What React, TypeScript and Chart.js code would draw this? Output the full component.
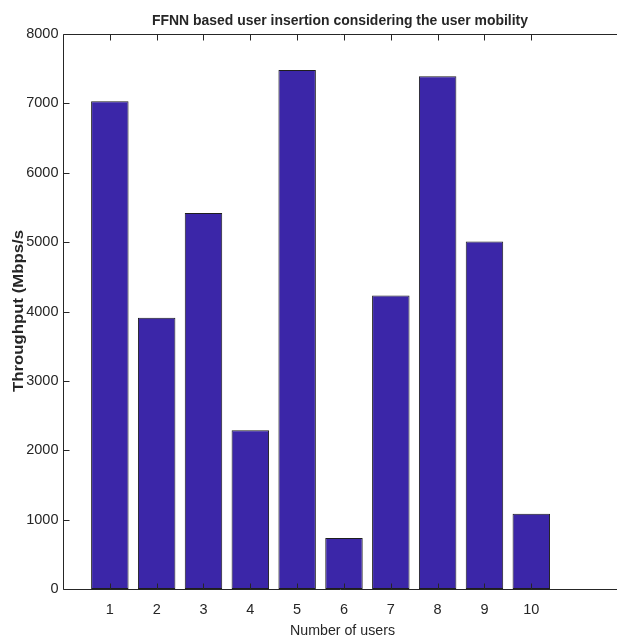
import React, { useEffect, useRef } from 'react';
import { Chart, registerables } from 'chart.js';

Chart.register(...registerables);

// ---- data ----
const categories = [1, 2, 3, 4, 5, 6, 7, 8, 9, 10];
const throughput = [7030, 3910, 5420, 2290, 7480, 735, 4230, 7390, 5010, 1085];
const yTicks = [0, 1000, 2000, 3000, 4000, 5000, 6000, 7000, 8000];
const xLimits = [0, 11.83];
const yLimits = [0, 8000];
const titleText = 'FFNN based user insertion considering the user mobility';
const xLabelText = 'Number of users';
const yLabelText = 'Throughput (Mbps/s';

const FONT = "'Liberation Sans', Arial, Helvetica, sans-serif";
const TEXT = '#262626';
const AXIS = '#262626';

const drawFitted = (ctx: any, text: string, x: number, y: number, width: number) => {
  const w = ctx.measureText(text).width;
  ctx.save();
  ctx.translate(x, y);
  ctx.scale(width / w, 1);
  ctx.textAlign = 'center';
  ctx.fillText(text, 0, 0);
  ctx.restore();
};

const matlabAxes = {
  id: 'matlabAxes',
  afterDatasetsDraw(chart: any) {
    const { ctx, chartArea: a, scales, width } = chart;
    const x = scales.x;
    const y = scales.y;
    const L = Math.round(a.left) + 0.5;
    const T = Math.round(a.top) + 0.5;
    const B = Math.round(a.bottom) + 0.5;
    const tl = 6;
    ctx.save();
    ctx.lineWidth = 1;
    ctx.strokeStyle = AXIS;
    ctx.beginPath();
    ctx.moveTo(L, T);
    ctx.lineTo(L, B);
    ctx.lineTo(width, B);
    ctx.moveTo(L, T);
    ctx.lineTo(width, T);
    categories.forEach((c) => {
      const px = Math.round(x.getPixelForValue(c)) + 0.5;
      ctx.moveTo(px, B);
      ctx.lineTo(px, B - tl);
      ctx.moveTo(px, T);
      ctx.lineTo(px, T + tl);
    });
    yTicks.forEach((v) => {
      const py = Math.round(y.getPixelForValue(v)) + 0.5;
      ctx.moveTo(L, py);
      ctx.lineTo(L + tl, py);
    });
    ctx.stroke();
    // x tick labels
    ctx.fillStyle = TEXT;
    ctx.font = `14.5px ${FONT}`;
    ctx.textAlign = 'center';
    ctx.textBaseline = 'alphabetic';
    categories.forEach((c) => {
      ctx.fillText(String(c), x.getPixelForValue(c), a.bottom + 24.5);
    });
    ctx.restore();
  },
  afterDraw(chart: any) {
    const { ctx } = chart;
    ctx.save();
    ctx.fillStyle = TEXT;
    ctx.textBaseline = 'alphabetic';
    // title
    ctx.font = `bold 15px ${FONT}`;
    drawFitted(ctx, titleText, 340, 24.5, 376);
    // x label
    ctx.font = `15px ${FONT}`;
    drawFitted(ctx, xLabelText, 342.5, 635, 105);
    // y label
    ctx.translate(22.5, 311);
    ctx.rotate(-Math.PI / 2);
    ctx.font = `bold 14px ${FONT}`;
    drawFitted(ctx, yLabelText, 0, 0, 162);
    ctx.restore();
  },
};

export default function App() {
  const ref = useRef<HTMLCanvasElement | null>(null);

  useEffect(() => {
    if (!ref.current) return;
    const chart = new Chart(ref.current, {
      type: 'bar',
      data: {
        datasets: [
          {
            data: categories.map((c, i) => ({ x: c, y: throughput[i] })),
            backgroundColor: '#3b26a8',
            borderColor: '#1e1e1e',
            borderWidth: 1,
            borderSkipped: false,
            barPercentage: 0.8,
            categoryPercentage: 1,
          },
        ],
      },
      options: {
        responsive: false,
        animation: false,
        devicePixelRatio: 1,
        layout: { autoPadding: false, padding: { top: 34, left: 0, right: 0, bottom: 0 } },
        plugins: {
          legend: { display: false },
          title: { display: false },
          tooltip: { enabled: false },
        },
        scales: {
          x: {
            type: 'linear',
            min: xLimits[0],
            max: xLimits[1],
            offset: false,
            grid: { display: false, drawTicks: false, offset: false },
            border: { display: false },
            ticks: {
              display: false,
              stepSize: 1,
              autoSkip: false,
              maxRotation: 0,
              padding: 0,
            },
            afterFit: (s: any) => {
              s.height = 47;
              s.paddingLeft = 0;
              s.paddingRight = 0;
            },
          },
          y: {
            type: 'linear',
            min: yLimits[0],
            max: yLimits[1],
            grid: { display: false, drawTicks: false },
            border: { display: false },
            ticks: {
              stepSize: 1000,
              padding: 4.5,
              color: TEXT,
              font: { family: FONT, size: 14.5 },
              callback: (v: any) => (yTicks.includes(Number(v)) ? String(v) : ''),
            },
            afterFit: (s: any) => {
              s.width = 63;
            },
          },
        },
      },
      plugins: [matlabAxes],
    });
    return () => chart.destroy();
  }, []);

  return (
    <div
      style={{
        position: 'fixed',
        left: 0,
        top: 0,
        width: 617,
        height: 636,
        overflow: 'hidden',
        background: '#ffffff',
      }}
    >
      <canvas ref={ref} width={617} height={636} style={{ display: 'block', width: 617, height: 636 }} />
    </div>
  );
}
